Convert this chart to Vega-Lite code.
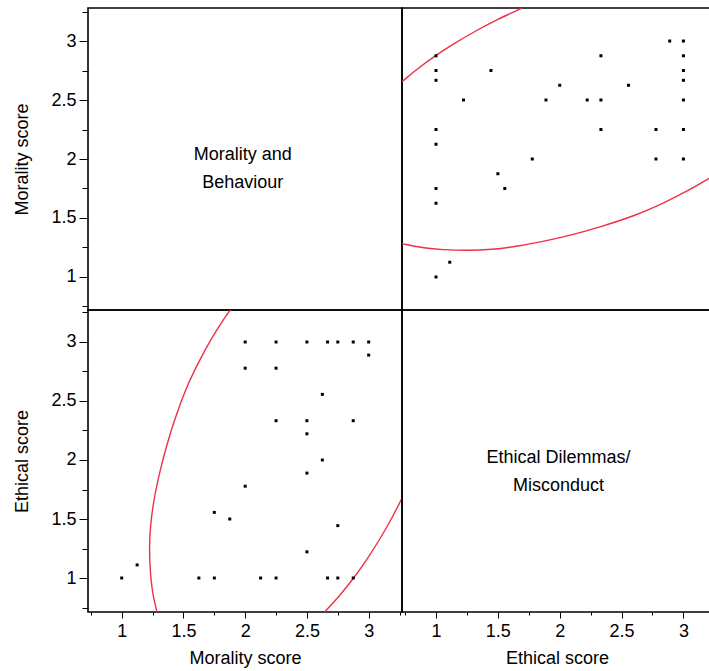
{
  "$schema": "https://vega.github.io/schema/vega-lite/v6.json",
  "padding": {"left": 13, "top": 1, "right": -3, "bottom": 0},
  "background": "white",
  "config": {
    "view": {"stroke": "#000", "strokeWidth": 1.6},
    "font": "Liberation Sans",
    "axis": {
      "labelFont": "Liberation Sans", "labelFontSize": 18, "labelColor": "#000",
      "titleFont": "Liberation Sans", "titleFontSize": 18, "titleFontWeight": "normal", "titleColor": "#000",
      "tickColor": "#000", "tickWidth": 1, "domain": false, "grid": false,
      "labelFlush": false, "labelOverlap": false
    }
  },
  "datasets": {
    "scores": [
      {"Morality": 3, "Ethical": 2.889},
      {"Morality": 3, "Ethical": 3},
      {"Morality": 2.875, "Ethical": 1},
      {"Morality": 2.875, "Ethical": 2.333},
      {"Morality": 2.875, "Ethical": 3},
      {"Morality": 2.75, "Ethical": 1},
      {"Morality": 2.75, "Ethical": 1.444},
      {"Morality": 2.75, "Ethical": 3},
      {"Morality": 2.667, "Ethical": 1},
      {"Morality": 2.667, "Ethical": 3},
      {"Morality": 2.625, "Ethical": 2},
      {"Morality": 2.625, "Ethical": 2.556},
      {"Morality": 2.5, "Ethical": 1.222},
      {"Morality": 2.5, "Ethical": 1.889},
      {"Morality": 2.5, "Ethical": 2.222},
      {"Morality": 2.5, "Ethical": 2.333},
      {"Morality": 2.5, "Ethical": 3},
      {"Morality": 2.25, "Ethical": 1},
      {"Morality": 2.25, "Ethical": 2.333},
      {"Morality": 2.25, "Ethical": 2.778},
      {"Morality": 2.25, "Ethical": 3},
      {"Morality": 2.125, "Ethical": 1},
      {"Morality": 2, "Ethical": 1.778},
      {"Morality": 2, "Ethical": 2.778},
      {"Morality": 2, "Ethical": 3},
      {"Morality": 1.875, "Ethical": 1.5},
      {"Morality": 1.75, "Ethical": 1},
      {"Morality": 1.75, "Ethical": 1.556},
      {"Morality": 1.625, "Ethical": 1},
      {"Morality": 1.125, "Ethical": 1.111},
      {"Morality": 1, "Ethical": 1}
    ],
    "ellipse": [
      {"arc": "A", "i": 1, "Ethical": 0.712, "Morality": 2.644},
      {"arc": "A", "i": 2, "Ethical": 0.725, "Morality": 2.655},
      {"arc": "A", "i": 3, "Ethical": 0.748, "Morality": 2.675},
      {"arc": "A", "i": 4, "Ethical": 0.85, "Morality": 2.763},
      {"arc": "A", "i": 5, "Ethical": 1.0, "Morality": 2.878},
      {"arc": "A", "i": 6, "Ethical": 1.15, "Morality": 2.98},
      {"arc": "A", "i": 7, "Ethical": 1.322, "Morality": 3.085},
      {"arc": "A", "i": 8, "Ethical": 1.5, "Morality": 3.183},
      {"arc": "A", "i": 9, "Ethical": 1.63, "Morality": 3.248},
      {"arc": "A", "i": 10, "Ethical": 1.675, "Morality": 3.2696},
      {"arc": "A", "i": 11, "Ethical": 1.696, "Morality": 3.28},
      {"arc": "B", "i": 1, "Ethical": 0.712, "Morality": 1.286},
      {"arc": "B", "i": 2, "Ethical": 0.725, "Morality": 1.283},
      {"arc": "B", "i": 3, "Ethical": 0.757, "Morality": 1.275},
      {"arc": "B", "i": 4, "Ethical": 0.9, "Morality": 1.248},
      {"arc": "B", "i": 5, "Ethical": 1.06, "Morality": 1.232},
      {"arc": "B", "i": 6, "Ethical": 1.265, "Morality": 1.226},
      {"arc": "B", "i": 7, "Ethical": 1.45, "Morality": 1.235},
      {"arc": "B", "i": 8, "Ethical": 1.661, "Morality": 1.262},
      {"arc": "B", "i": 9, "Ethical": 1.92, "Morality": 1.314},
      {"arc": "B", "i": 10, "Ethical": 2.1, "Morality": 1.359},
      {"arc": "B", "i": 11, "Ethical": 2.326, "Morality": 1.425},
      {"arc": "B", "i": 12, "Ethical": 2.6, "Morality": 1.521},
      {"arc": "B", "i": 13, "Ethical": 2.84, "Morality": 1.629},
      {"arc": "B", "i": 14, "Ethical": 3.03, "Morality": 1.729},
      {"arc": "B", "i": 15, "Ethical": 3.2, "Morality": 1.831},
      {"arc": "B", "i": 16, "Ethical": 3.231, "Morality": 1.852},
      {"arc": "B", "i": 17, "Ethical": 3.271, "Morality": 1.879}
    ],
    "labels": [
      {"panel": "tl", "text": ["Morality and", "Behaviour"], "Morality": 1.98, "MoralityY": 2.034},
      {"panel": "br", "text": ["Ethical Dilemmas/", "Misconduct"], "Ethical": 1.99, "EthicalY": 2.02}
    ]
  },
  "columns": 2,
  "spacing": 0,
  "bounds": "flush",
  "resolve": {"scale": {"x": "independent", "y": "independent"}, "axis": {"x": "independent", "y": "independent"}},
  "concat": [
    {
      "width": 314, "height": 302,
      "data": {"name": "labels"},
      "transform": [{"filter": "datum.panel == 'tl'"}],
      "mark": {"type": "text", "font": "Liberation Sans", "fontSize": 18, "lineHeight": 28, "align": "center", "baseline": "middle", "color": "#000"},
      "encoding": {
        "x": {"field": "Morality", "type": "quantitative", "scale": {"domain": [0.727, 3.27], "nice": false, "zero": false}, "axis": null},
        "y": {"field": "MoralityY", "type": "quantitative", "scale": {"domain": [0.72, 3.28], "nice": false, "zero": false},
          "axis": {"title": "Morality score", "values": [0.75, 1, 1.25, 1.5, 1.75, 2, 2.25, 2.5, 2.75, 3, 3.25],
            "labelExpr": "abs(datum.value*2 - round(datum.value*2)) < 0.001 ? '' + datum.value : ''",
            "tickSize": {"condition": {"test": "abs(datum.value*2 - round(datum.value*2)) < 0.001", "value": 9}, "value": 6},
            "labelPadding": 3, "titlePadding": 19}},
        "text": {"field": "text"}
      }
    },
    {
      "width": 310, "height": 302,
      "encoding": {
        "x": {"field": "Ethical", "type": "quantitative", "scale": {"domain": [0.725, 3.231], "nice": false, "zero": false}, "axis": null},
        "y": {"field": "Morality", "type": "quantitative", "scale": {"domain": [0.72, 3.28], "nice": false, "zero": false}, "axis": null}
      },
      "layer": [
        {
          "data": {"name": "ellipse"},
          "transform": [{"filter": "datum.Ethical >= 0.7249 && datum.Ethical <= 3.2311 && datum.Morality <= 3.2801"}],
          "mark": {"type": "line", "color": "#ee3048", "strokeWidth": 1.4, "clip": true, "interpolate": "catmull-rom"},
          "encoding": {
            "detail": {"field": "arc"},
            "order": {"field": "i", "type": "quantitative"}
          }
        },
        {
          "data": {"name": "scores"},
          "mark": {"type": "square", "color": "#000", "size": 9, "opacity": 1}
        }
      ]
    },
    {
      "width": 314, "height": 302,
      "encoding": {
        "x": {"field": "Morality", "type": "quantitative", "scale": {"domain": [0.727, 3.27], "nice": false, "zero": false},
          "axis": {"title": "Morality score", "values": [0.75, 1, 1.25, 1.5, 1.75, 2, 2.25, 2.5, 2.75, 3, 3.25],
            "labelExpr": "abs(datum.value*2 - round(datum.value*2)) < 0.001 ? '' + datum.value : ''",
            "tickSize": {"condition": {"test": "abs(datum.value*2 - round(datum.value*2)) < 0.001", "value": 6}, "value": 3},
            "labelPadding": 4, "titlePadding": 9}},
        "y": {"field": "Ethical", "type": "quantitative", "scale": {"domain": [0.712, 3.271], "nice": false, "zero": false},
          "axis": {"title": "Ethical score", "values": [0.75, 1, 1.25, 1.5, 1.75, 2, 2.25, 2.5, 2.75, 3, 3.25],
            "labelExpr": "abs(datum.value*2 - round(datum.value*2)) < 0.001 ? '' + datum.value : ''",
            "tickSize": {"condition": {"test": "abs(datum.value*2 - round(datum.value*2)) < 0.001", "value": 9}, "value": 6},
            "labelPadding": 3, "titlePadding": 19}}
      },
      "layer": [
        {
          "data": {"name": "ellipse"},
          "transform": [{"filter": "datum.Morality <= 3.2701"}],
          "mark": {"type": "line", "color": "#ee3048", "strokeWidth": 1.4, "clip": true, "interpolate": "catmull-rom"},
          "encoding": {
            "detail": {"field": "arc"},
            "order": {"field": "i", "type": "quantitative"}
          }
        },
        {
          "data": {"name": "scores"},
          "mark": {"type": "square", "color": "#000", "size": 9, "opacity": 1}
        }
      ]
    },
    {
      "width": 310, "height": 302,
      "data": {"name": "labels"},
      "transform": [{"filter": "datum.panel == 'br'"}],
      "mark": {"type": "text", "font": "Liberation Sans", "fontSize": 18, "lineHeight": 28, "align": "center", "baseline": "middle", "color": "#000"},
      "encoding": {
        "x": {"field": "Ethical", "type": "quantitative", "scale": {"domain": [0.725, 3.231], "nice": false, "zero": false},
          "axis": {"title": "Ethical score", "values": [0.75, 1, 1.25, 1.5, 1.75, 2, 2.25, 2.5, 2.75, 3],
            "labelExpr": "abs(datum.value*2 - round(datum.value*2)) < 0.001 ? '' + datum.value : ''",
            "tickSize": {"condition": {"test": "abs(datum.value*2 - round(datum.value*2)) < 0.001", "value": 6}, "value": 3},
            "labelPadding": 4, "titlePadding": 9}},
        "y": {"field": "EthicalY", "type": "quantitative", "scale": {"domain": [0.712, 3.271], "nice": false, "zero": false}, "axis": null},
        "text": {"field": "text"}
      }
    }
  ]
}
